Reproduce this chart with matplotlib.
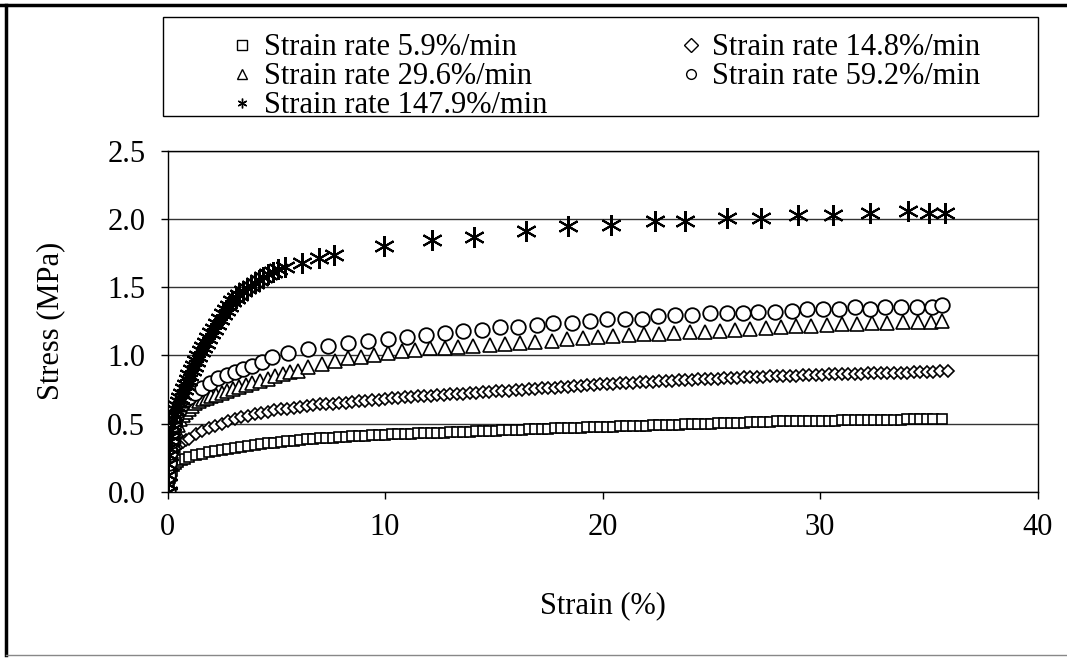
import matplotlib
matplotlib.use("Agg")
import matplotlib.pyplot as plt
from matplotlib.lines import Line2D
from matplotlib.patches import Rectangle

plt.rcParams['font.family'] = ['Liberation Serif', 'DejaVu Serif']

# ---- data: strain (%) and stress (MPa) for each loading rate ----
sq_strain = [0, 0.03, 0.06, 0.1, 0.15, 0.2, 0.3, 0.4, 0.5, 0.65, 0.8,
             1.0, 1.3, 1.6, 1.9, 2.2, 2.5, 2.8, 3.1, 3.4, 3.7, 4.0, 4.3, 4.6, 4.9, 5.2, 5.5, 5.8, 6.1, 6.4, 6.7,
             7.0, 7.3, 7.6, 7.9, 8.2, 8.5, 8.8, 9.1, 9.4, 9.7, 10.0, 10.3, 10.6, 10.9, 11.2, 11.5, 11.8, 12.1,
             12.4, 12.7, 13.0, 13.3, 13.6, 13.9, 14.2, 14.5, 14.8, 15.1, 15.4, 15.7, 16.0, 16.3, 16.6, 16.9,
             17.2, 17.5, 17.8, 18.1, 18.4, 18.7, 19.0, 19.3, 19.6, 19.9, 20.2, 20.5, 20.8, 21.1, 21.4, 21.7,
             22.0, 22.3, 22.6, 22.9, 23.2, 23.5, 23.8, 24.1, 24.4, 24.7, 25.0, 25.3, 25.6, 25.9, 26.2, 26.5,
             26.8, 27.1, 27.4, 27.7, 28.0, 28.3, 28.6, 28.9, 29.2, 29.5, 29.8, 30.1, 30.4, 30.7, 31.0, 31.3,
             31.6, 31.9, 32.2, 32.5, 32.8, 33.1, 33.4, 33.7, 34.0, 34.3, 34.6, 34.9, 35.2, 35.6]
sq_stress = [0, 0.04, 0.07, 0.10, 0.13, 0.155, 0.185, 0.205, 0.218, 0.232, 0.243,
             0.255, 0.268, 0.28, 0.292, 0.30, 0.308, 0.316, 0.324, 0.331, 0.337, 0.343, 0.349, 0.355, 0.36,
             0.365, 0.37, 0.375, 0.38, 0.385, 0.388, 0.391, 0.394, 0.397, 0.40, 0.403, 0.406, 0.409, 0.412,
             0.414, 0.416, 0.418, 0.42, 0.422, 0.424, 0.426, 0.428, 0.429, 0.431, 0.432, 0.434, 0.435, 0.437,
             0.438, 0.44, 0.442, 0.444, 0.446, 0.448, 0.45, 0.452, 0.455, 0.456, 0.458, 0.46, 0.461, 0.463,
             0.464, 0.466, 0.467, 0.469, 0.47, 0.472, 0.473, 0.475, 0.477, 0.478, 0.48, 0.481, 0.482, 0.484,
             0.485, 0.487, 0.488, 0.49, 0.491, 0.492, 0.494, 0.495, 0.497, 0.498, 0.50, 0.501, 0.503, 0.504,
             0.506, 0.507, 0.509, 0.51, 0.512, 0.513, 0.515, 0.516, 0.517, 0.518, 0.519, 0.519, 0.52, 0.521,
             0.521, 0.522, 0.523, 0.523, 0.524, 0.525, 0.525, 0.526, 0.527, 0.527, 0.528, 0.529, 0.53, 0.53,
             0.531, 0.532, 0.532, 0.533]

di_strain = [0, 0.03, 0.06, 0.1, 0.15, 0.2, 0.3, 0.4, 0.5, 0.6, 0.7, 0.85,
             1.0, 1.3, 1.6, 1.9, 2.2, 2.5, 2.8, 3.1, 3.4, 3.7, 4.0, 4.3, 4.6, 4.9, 5.2, 5.5, 5.8, 6.1, 6.4, 6.7,
             7.0, 7.3, 7.6, 7.9, 8.2, 8.5, 8.8, 9.1, 9.4, 9.7, 10.0, 10.3, 10.6, 10.9, 11.2, 11.5, 11.8, 12.1,
             12.4, 12.7, 13.0, 13.3, 13.6, 13.9, 14.2, 14.5, 14.8, 15.1, 15.4, 15.7, 16.0, 16.3, 16.6, 16.9,
             17.2, 17.5, 17.8, 18.1, 18.4, 18.7, 19.0, 19.3, 19.6, 19.9, 20.2, 20.5, 20.8, 21.1, 21.4, 21.7,
             22.0, 22.3, 22.6, 22.9, 23.2, 23.5, 23.8, 24.1, 24.4, 24.7, 25.0, 25.3, 25.6, 25.9, 26.2, 26.5,
             26.8, 27.1, 27.4, 27.7, 28.0, 28.3, 28.6, 28.9, 29.2, 29.5, 29.8, 30.1, 30.4, 30.7, 31.0, 31.3,
             31.6, 31.9, 32.2, 32.5, 32.8, 33.1, 33.4, 33.7, 34.0, 34.3, 34.6, 34.9, 35.2, 35.5, 35.9]
di_stress = [0, 0.06, 0.11, 0.16, 0.21, 0.245, 0.29, 0.32, 0.34, 0.355, 0.365, 0.378,
             0.39, 0.42, 0.445, 0.465, 0.48, 0.50, 0.52, 0.533, 0.546, 0.558, 0.57, 0.579, 0.588, 0.597,
             0.604, 0.61, 0.616, 0.622, 0.628, 0.634, 0.64, 0.643, 0.646, 0.649, 0.653, 0.657, 0.662, 0.666,
             0.671, 0.675, 0.68, 0.684, 0.688, 0.691, 0.695, 0.699, 0.701, 0.705, 0.708, 0.711, 0.713, 0.716,
             0.719, 0.722, 0.727, 0.729, 0.732, 0.735, 0.738, 0.741, 0.745, 0.748, 0.751, 0.754, 0.757, 0.76,
             0.763, 0.766, 0.77, 0.774, 0.778, 0.781, 0.785, 0.789, 0.791, 0.793, 0.795, 0.798, 0.80, 0.803,
             0.805, 0.807, 0.81, 0.812, 0.814, 0.816, 0.818, 0.82, 0.823, 0.825, 0.827, 0.83, 0.832, 0.834,
             0.836, 0.838, 0.84, 0.842, 0.844, 0.846, 0.848, 0.849, 0.851, 0.852, 0.854, 0.855, 0.857, 0.858,
             0.86, 0.861, 0.862, 0.863, 0.864, 0.866, 0.867, 0.868, 0.869, 0.87, 0.871, 0.873, 0.874, 0.875,
             0.877, 0.879, 0.881, 0.883, 0.887]

tr_strain = [0, 0.04, 0.08, 0.13, 0.2, 0.28, 0.37, 0.47, 0.58, 0.7, 0.83, 0.97, 1.12, 1.28, 1.45, 1.63,
             1.82, 2.02, 2.25, 2.5, 2.75, 3.0, 3.3, 3.6, 3.9, 4.25, 4.6, 4.95, 5.3, 5.65, 6.0, 6.45, 7.1, 7.7,
             8.3, 8.9, 9.5, 10.15, 10.8, 11.4, 12.07, 12.76, 13.37, 14.06, 14.83, 15.52, 16.21, 16.9, 17.66,
             18.35, 19.12, 19.8, 20.5, 21.2, 21.9, 22.6, 23.3, 24.0, 24.7, 25.4, 26.1, 26.8, 27.5, 28.2, 28.9,
             29.6, 30.3, 31.0, 31.7, 32.4, 33.1, 33.8, 34.5, 35.1, 35.6]
tr_stress = [0, 0.12, 0.2, 0.27, 0.34, 0.4, 0.45, 0.49, 0.53, 0.56, 0.585, 0.61, 0.63, 0.648, 0.663, 0.677,
             0.69, 0.70, 0.712, 0.724, 0.736, 0.75, 0.768, 0.785, 0.80, 0.815, 0.83, 0.848, 0.862, 0.875, 0.888,
             0.912, 0.938, 0.96, 0.978, 0.99, 1.0, 1.016, 1.028, 1.04, 1.05, 1.056, 1.062, 1.07, 1.078, 1.085,
             1.09, 1.098, 1.108, 1.118, 1.127, 1.135, 1.14, 1.147, 1.154, 1.159, 1.164, 1.169, 1.173, 1.177,
             1.185, 1.193, 1.20, 1.206, 1.212, 1.218, 1.223, 1.227, 1.231, 1.235, 1.238, 1.241, 1.245, 1.247,
             1.25]

ci_strain = [0, 0.03, 0.06, 0.1, 0.15, 0.22, 0.3, 0.4, 0.52, 0.65, 0.8, 0.97, 1.26, 1.57, 1.95, 2.34, 2.72,
             3.1, 3.49, 3.87, 4.33, 4.79, 5.56, 6.47, 7.39, 8.31, 9.23, 10.15, 11.0, 11.9, 12.76, 13.6, 14.45,
             15.3, 16.13, 16.97, 17.74, 18.58, 19.43, 20.2, 21.03, 21.8, 22.57, 23.33, 24.1, 24.94, 25.7, 26.47,
             27.16, 27.93, 28.7, 29.39, 30.15, 30.89, 31.61, 32.3, 32.99, 33.72, 34.44, 35.13, 35.6]
ci_stress = [0, 0.12, 0.21, 0.29, 0.37, 0.44, 0.5, 0.555, 0.6, 0.64, 0.67, 0.695, 0.723, 0.759, 0.796, 0.833,
             0.857, 0.877, 0.899, 0.923, 0.954, 0.988, 1.016, 1.046, 1.07, 1.088, 1.105, 1.118, 1.132, 1.148,
             1.163, 1.178, 1.182, 1.205, 1.21, 1.225, 1.238, 1.24, 1.254, 1.268, 1.268, 1.268, 1.285, 1.296,
             1.298, 1.31, 1.31, 1.31, 1.32, 1.32, 1.322, 1.338, 1.34, 1.34, 1.352, 1.342, 1.352, 1.354, 1.354,
             1.354, 1.368]

st_strain = [0, 0.01, 0.02, 0.04, 0.06, 0.08, 0.11, 0.14, 0.18, 0.22, 0.27, 0.32, 0.38, 0.44, 0.51, 0.58,
             0.66, 0.74, 0.83, 0.92, 1.01, 1.11, 1.21, 1.31, 1.42, 1.53, 1.64, 1.76, 1.88, 2.0, 2.13, 2.26, 2.4,
             2.54, 2.68, 2.83, 2.98, 3.14, 3.3, 3.47, 3.64, 3.82, 4.0, 4.2, 4.4, 4.6, 4.85, 5.1, 5.4, 6.2, 6.95,
             7.65, 9.95, 12.15, 14.1, 16.5, 18.4, 20.4, 22.4, 23.8, 25.7, 27.3, 29.0, 30.6, 32.3, 34.05, 35.0,
             35.75]
st_stress = [0, 0.06, 0.12, 0.2, 0.27, 0.32, 0.37, 0.41, 0.45, 0.49, 0.53, 0.565, 0.6, 0.63, 0.66, 0.69,
             0.72, 0.75, 0.785, 0.82, 0.855, 0.89, 0.925, 0.96, 0.995, 1.03, 1.06, 1.09, 1.125, 1.16, 1.195,
             1.23, 1.265, 1.30, 1.33, 1.365, 1.395, 1.42, 1.445, 1.47, 1.49, 1.51, 1.53, 1.55, 1.575, 1.595,
             1.61, 1.63, 1.65, 1.68, 1.715, 1.735, 1.80, 1.845, 1.87, 1.915, 1.945, 1.958, 1.982, 1.982, 2.01,
             2.01, 2.027, 2.027, 2.044, 2.056, 2.044, 2.044]

labels = ["Strain rate 5.9%/min", "Strain rate 14.8%/min", "Strain rate 29.6%/min",
          "Strain rate 59.2%/min", "Strain rate 147.9%/min"]

x_ticks = [0, 10, 20, 30, 40]
y_ticks = [0.0, 0.5, 1.0, 1.5, 2.0, 2.5]

# ---- figure ----
fig = plt.figure(figsize=(10.67, 6.6), dpi=100)
ax = fig.add_axes([0.157, 0.255, 0.8154, 0.5166])

star = (6, 2, 0)
series = [
    (sq_strain, sq_stress, 's', 7.2, 1.2),
    (di_strain, di_stress, 'D', 6.4, 1.2),
    (tr_strain, tr_stress, '^', 10.5, 1.2),
    (ci_strain, ci_stress, 'o', 10.5, 1.3),
    (st_strain, st_stress, star, 15, 1.5),
]
handles = []
for (xs, ys, mk, ms, mew), lab in zip(series, labels):
    h, = ax.plot(xs, ys, linestyle='none', marker=mk, markersize=ms,
                 markerfacecolor='white', markeredgecolor='black',
                 markeredgewidth=mew, label=lab)
    handles.append(h)

ax.set_xlim(0, 40)
ax.set_ylim(0, 2.5)
ax.set_xticks(x_ticks)
ax.set_yticks(y_ticks)
ax.set_xticklabels([str(v) for v in x_ticks])
ax.set_yticklabels([f"{v:.1f}" for v in y_ticks])
ax.tick_params(axis='both', direction='out', length=5, width=1, labelsize=22, colors='black')
ax.tick_params(axis='x', pad=10)
ax.tick_params(axis='y', pad=11)
ax.yaxis.grid(True, color='#333333', linewidth=1)
ax.set_axisbelow(True)
for sp in ax.spines.values():
    sp.set_linewidth(1)
    sp.set_color('black')

ax.set_xlabel("Strain (%)", fontsize=22, labelpad=36)
ax.set_ylabel("Stress (MPa)", fontsize=22, labelpad=30)

# legend box spanning the width above the plot
fig.patches.append(Rectangle((163 / 1067, 1 - 116 / 660), (1038 - 163) / 1067, (116 - 17) / 660,
                             transform=fig.transFigure, facecolor='white', edgecolor='black',
                             linewidth=1, zorder=0))
leg_handles = []
for h in handles:
    leg_handles.append(Line2D([], [], linestyle='none', marker=h.get_marker(), markersize=7,
                              markerfacecolor='white', markeredgecolor='black', markeredgewidth=1))
order = [0, 2, 4, 1, 3]
fig.legend([leg_handles[i] for i in order], [labels[i] for i in order],
           loc='upper left', bbox_to_anchor=(218 / 1067, 1 - 18 / 660), ncol=2, frameon=False,
           fontsize=22, handlelength=0.6, handletextpad=0.4, columnspacing=4.4,
           labelspacing=0.0, borderpad=0)

# outer frame
fig.add_artist(Line2D([0, 1], [1 - 5 / 660, 1 - 5 / 660], transform=fig.transFigure,
                      color='black', linewidth=2.5))
fig.add_artist(Line2D([6 / 1067, 6 / 1067], [1 - 5 / 660, 1 - 655 / 660], transform=fig.transFigure,
                      color='black', linewidth=2.5))
fig.add_artist(Line2D([6 / 1067, 1], [1 - 655 / 660, 1 - 655 / 660], transform=fig.transFigure,
                      color='#888888', linewidth=1))

fig.savefig("out.png", dpi=100)
